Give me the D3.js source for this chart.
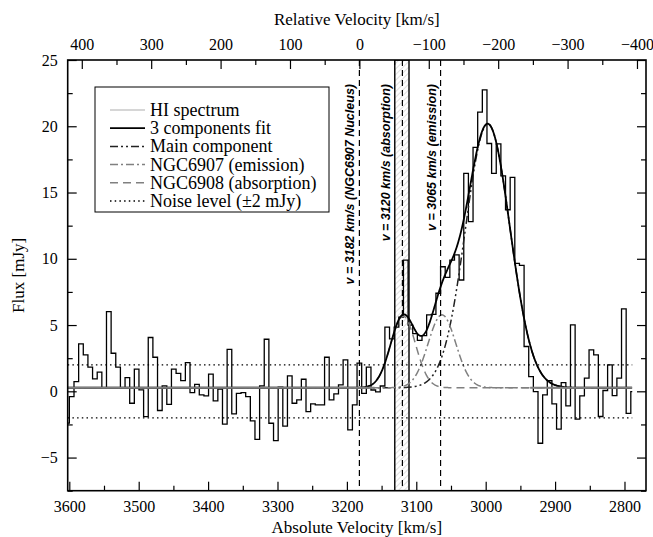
<!DOCTYPE html>
<html>
<head>
<meta charset="utf-8">
<script src="https://cdn.jsdelivr.net/npm/d3@7"></script>
<style>
  body { margin: 0; background: #fff; }
  svg { display: block; }
  text { font-family: "Liberation Serif", "Times New Roman", serif; fill: #000; }
  .vlabel { font-family: "Liberation Sans", Arial, sans-serif; font-style: italic; font-weight: bold; font-size: 12.5px; }
</style>
</head>
<body>
<svg width="653" height="537"></svg>
<script>
// HI spectrum, one value per channel [mJy], from high to low velocity
// first and last channels are only partly inside the band
const specStart = 3602.3;
const specEnd = 2788.8;
const chanFirst = 3599.9;
const chanWidth = 6.686;
const flux = [
  -2.4,
  -0.4, 0.73, 3.58, 2.75, 1.82, 0.94, 1.44, 0.28, 6.02, 2.87,
  1.82, 0.28, 1.04, -0.9, 1.67, 0.11, -1.91, 4.06, 2.57, -1.45,
  0.41, -0.98, 1.67, 1.36, 0.81, 2.17, -0.1, 0.53, -0.27, -0.35,
  1.29, -0.72, 0.16, -2.48, 3.17, -1.71, -0.15, -0.1, -0.4, -2.23,
  -3.62, 0.41, 3.93, -2.41, -3.72, 0.31, -2.62, 1.16, -0.9, -0.65,
  0.91, -1.53, -0.95, -1.03, -1.03, 2.57, -0.65, -0.2, 0.48, 2.37,
  -2.91, -1.03, 2.12, -0.15, 1.82, 0.1, -0.05, 0.4, 4.85, 3.95,
  4.85, 5.6, 9.9, 5.0, 4.35, 3.85, 4.2, 5.76, 5.8, 7.4,
  9.4, 8.6, 9.9, 10.3, 8.4, 16.45, 12.8, 18.4, 21.06, 22.75,
  18.7, 16.45, 18.67, 16.25, 13.7, 16.15, 9.66, 9.5, 3.38, 1.11,
  -0.02, -3.92, -0.27, 0.81, -0.95, -2.86, 0.66, -1.1, 5.01, -2.1,
  -0.35, 0.99, 3.12, 2.75, -1.9, 0.06, 2.0, -0.32, 0.99, 6.22,
  -1.66, -0.02
];

// gaussian components of the fit
const compNames = ['Main component', 'NGC6907 (emission)', 'NGC6908 (absorption)'];
const compCenter = [2997, 3063, 3119];
const compPeak = [19.9, 5.5, 5.4];
const compSigma = [32, 20, 18];
const baseLevel = 0.27;
const baseSegments = [[3602.3, 3160], [2936, 2788.8]];

// reference velocities
const systemic = 3182;
const markVel = [3182, 3120, 3065];
const markText = ['v = 3182 km/s (NGC6907 Nucleus)', 'v = 3120 km/s (absorption)', 'v = 3065 km/s (emission)'];
const absBand = [3131, 3110.5];
const noiseLevel = 2;

// axes
const xTicks = [3600, 3500, 3400, 3300, 3200, 3100, 3000, 2900, 2800];
const xMinor = [3550, 3450, 3350, 3250, 3150, 3050, 2950, 2850];
const relTicks = [400, 300, 200, 100, 0, -100, -200, -300, -400];
const relMinor = [350, 250, 150, 50, -50, -150, -250, -350];
const yTicks = [-5, 0, 5, 10, 15, 20, 25];
const yMinor = [-7.5, -2.5, 2.5, 7.5, 12.5, 17.5, 22.5];

const legendNames = ['HI spectrum', '3 components fit', 'Main component',
  'NGC6907 (emission)', 'NGC6908 (absorption)', 'Noise level (\u00b12 mJy)'];

// styles
const styles = {
  spectrum: { stroke: '#000', width: 1.3, dash: null },
  specLegend: { stroke: '#c8c8c8', width: 1.6, dash: null },
  fit: { stroke: '#000', width: 1.8, dash: null },
  comps: [
    { stroke: '#222', width: 1.5, dash: '8,3,2,3,2,3' },
    { stroke: '#808080', width: 1.5, dash: '8,3,2,3' },
    { stroke: '#808080', width: 1.5, dash: '8,5' },
  ],
  noise: { stroke: '#000', width: 1.3, dash: '1.5,3.2' },
};

const W = 653, H = 537;
const m = { left: 67.7, right: 7, top: 60, bottom: 46.3 };
const svg = d3.select('svg');

const x = d3.scaleLinear().domain([3602.3, 2769]).range([m.left, W - m.right]);
const xRel = d3.scaleLinear().domain([3602.3 - systemic, 2769 - systemic]).range([m.left, W - m.right]);
const y = d3.scaleLinear().domain([-7.5, 25]).range([H - m.bottom, m.top]);

const defs = svg.append('defs');
defs.append('clipPath').attr('id', 'plotclip')
  .append('rect')
  .attr('x', m.left).attr('y', m.top)
  .attr('width', W - m.left - m.right).attr('height', H - m.top - m.bottom);
const hatch = defs.append('pattern').attr('id', 'hatch')
  .attr('patternUnits', 'userSpaceOnUse').attr('width', 4).attr('height', 4)
  .attr('patternTransform', 'rotate(45)');
hatch.append('line').attr('x1', 0).attr('y1', 0).attr('x2', 0).attr('y2', 4)
  .attr('stroke', '#b8b8b8').attr('stroke-width', 0.9);

const plot = svg.append('g').attr('clip-path', 'url(#plotclip)');

// absorption velocity range
plot.append('rect')
  .attr('x', x(absBand[0])).attr('y', m.top)
  .attr('width', x(absBand[1]) - x(absBand[0])).attr('height', H - m.top - m.bottom)
  .attr('fill', 'url(#hatch)').attr('stroke', '#000').attr('stroke-width', 1.4);

// spectrum as steps
const edges = [specStart].concat(d3.range(0, flux.length - 1).map(function(i) {
  return chanFirst - i * chanWidth;
}), [specEnd]);
const steps = flux.map(function(f, i) { return [edges[i], f]; });
steps.push([edges[flux.length], flux[flux.length - 1]]);
plot.append('path')
  .datum(steps)
  .attr('fill', 'none')
  .attr('stroke', styles.spectrum.stroke)
  .attr('stroke-width', styles.spectrum.width)
  .attr('d', d3.line().curve(d3.curveStepAfter)
    .x(function(d) { return x(d[0]); })
    .y(function(d) { return y(d[1]); }));

// model curves
const gauss = function(k, v) {
  return compPeak[k] * Math.exp(-Math.pow(v - compCenter[k], 2) / (2 * compSigma[k] * compSigma[k]));
};
const vel = d3.range(specStart, specEnd, -0.5);
const curve = d3.line()
  .x(function(d) { return x(d[0]); })
  .y(function(d) { return y(d[1]); });

compNames.forEach(function(name, k) {
  plot.append('path')
    .datum(vel.map(function(v) { return [v, baseLevel + gauss(k, v)]; }))
    .attr('fill', 'none')
    .attr('stroke', styles.comps[k].stroke)
    .attr('stroke-width', styles.comps[k].width)
    .attr('stroke-dasharray', styles.comps[k].dash)
    .attr('d', curve);
});

plot.append('path')
  .datum(vel.map(function(v) {
    return [v, baseLevel + d3.sum(compNames, function(n, k) { return gauss(k, v); })];
  }))
  .attr('fill', 'none')
  .attr('stroke', styles.fit.stroke)
  .attr('stroke-width', styles.fit.width)
  .attr('d', curve);

// baseline outside the fitted window
plot.selectAll('line.base')
  .data(baseSegments)
  .enter().append('line')
  .attr('class', 'base')
  .attr('x1', function(d) { return x(d[0]); })
  .attr('x2', function(d) { return x(d[1]); })
  .attr('y1', y(baseLevel)).attr('y2', y(baseLevel))
  .attr('stroke', '#808080').attr('stroke-width', 2);

// noise level
plot.selectAll('line.noise')
  .data([noiseLevel, -noiseLevel])
  .enter().append('line')
  .attr('class', 'noise')
  .attr('x1', x(specStart)).attr('x2', x(specEnd))
  .attr('y1', function(d) { return y(d); })
  .attr('y2', function(d) { return y(d); })
  .attr('stroke', styles.noise.stroke)
  .attr('stroke-width', styles.noise.width)
  .attr('stroke-dasharray', styles.noise.dash);

// reference velocity lines
plot.selectAll('line.mark')
  .data(markVel)
  .enter().append('line')
  .attr('class', 'mark')
  .attr('x1', function(d) { return x(d); })
  .attr('x2', function(d) { return x(d); })
  .attr('y1', m.top).attr('y2', H - m.bottom)
  .attr('stroke', '#000').attr('stroke-width', 1.2)
  .attr('stroke-dasharray', '6,4');

svg.selectAll('text.vlabel')
  .data(markVel)
  .enter().append('text')
  .attr('class', 'vlabel')
  .attr('text-anchor', 'end')
  .attr('transform', function(d, i) {
    const lx = d === 3120 ? x(absBand[0]) : x(d);
    return 'translate(' + (lx - 5) + ',' + 84 + ') rotate(-90)';
  })
  .text(function(d, i) { return markText[i]; });

// legend
const legend = svg.append('g');
legend.append('rect')
  .attr('x', 95).attr('y', 87).attr('width', 234).attr('height', 125)
  .attr('fill', '#fff').attr('stroke', '#000').attr('stroke-width', 1);
const legendStyle = [styles.specLegend, styles.fit].concat(styles.comps, [styles.noise]);
const rows = legend.selectAll('g.row')
  .data(legendNames)
  .enter().append('g')
  .attr('class', 'row')
  .attr('transform', function(d, i) { return 'translate(0,' + (110 + i * 18.2) + ')'; });
rows.append('line')
  .attr('x1', 110).attr('x2', 145)
  .attr('stroke', function(d, i) { return legendStyle[i].stroke; })
  .attr('stroke-width', function(d, i) { return legendStyle[i].width; })
  .attr('stroke-dasharray', function(d, i) { return legendStyle[i].dash; });
rows.append('text')
  .attr('x', 150).attr('dy', '0.33em')
  .style('font-size', '18px')
  .text(function(d) { return d; });

// axes, ticks point inwards
const styleAxis = function(g) {
  g.attr('font-family', null);
  g.select('.domain').remove();
  g.selectAll('line').attr('stroke', '#000').attr('stroke-width', 1.2);
  g.selectAll('text').style('font-size', '16px');
};

svg.append('g').attr('transform', 'translate(0,' + (H - m.bottom) + ')')
  .call(d3.axisBottom(x).tickValues(xTicks).tickSize(-9).tickPadding(10).tickFormat(d3.format('d')))
  .call(styleAxis);
svg.append('g').attr('transform', 'translate(0,' + (H - m.bottom) + ')')
  .call(d3.axisBottom(x).tickValues(xMinor).tickSize(-5).tickFormat(''))
  .call(styleAxis);
svg.append('g').attr('transform', 'translate(0,' + m.top + ')')
  .call(d3.axisTop(xRel).tickValues(relTicks).tickSize(-9).tickPadding(10).tickFormat(d3.format('d')))
  .call(styleAxis);
svg.append('g').attr('transform', 'translate(0,' + m.top + ')')
  .call(d3.axisTop(xRel).tickValues(relMinor).tickSize(-5).tickFormat(''))
  .call(styleAxis);
svg.append('g').attr('transform', 'translate(' + m.left + ',0)')
  .call(d3.axisLeft(y).tickValues(yTicks).tickSize(-9).tickPadding(10).tickFormat(d3.format('d')))
  .call(styleAxis);
svg.append('g').attr('transform', 'translate(' + m.left + ',0)')
  .call(d3.axisLeft(y).tickValues(yMinor).tickSize(-5).tickFormat(''))
  .call(styleAxis);
svg.append('g').attr('transform', 'translate(' + (W - m.right) + ',0)')
  .call(d3.axisRight(y).tickValues(yTicks).tickSize(-9).tickFormat(''))
  .call(styleAxis);
svg.append('g').attr('transform', 'translate(' + (W - m.right) + ',0)')
  .call(d3.axisRight(y).tickValues(yMinor).tickSize(-5).tickFormat(''))
  .call(styleAxis);

// frame
svg.append('rect')
  .attr('x', m.left).attr('y', m.top)
  .attr('width', W - m.left - m.right).attr('height', H - m.top - m.bottom)
  .attr('fill', 'none').attr('stroke', '#000').attr('stroke-width', 1.6);

// titles
svg.append('text')
  .attr('x', (m.left + W - m.right) / 2).attr('y', 25)
  .attr('text-anchor', 'middle').style('font-size', '17px')
  .text('Relative Velocity [km/s]');
svg.append('text')
  .attr('x', (m.left + W - m.right) / 2).attr('y', 533)
  .attr('text-anchor', 'middle').style('font-size', '17px')
  .text('Absolute Velocity [km/s]');
svg.append('text')
  .attr('transform', 'translate(24,' + (m.top + H - m.bottom) / 2 + ') rotate(-90)')
  .attr('text-anchor', 'middle').style('font-size', '17px')
  .text('Flux [mJy]');
</script>
</body>
</html>
